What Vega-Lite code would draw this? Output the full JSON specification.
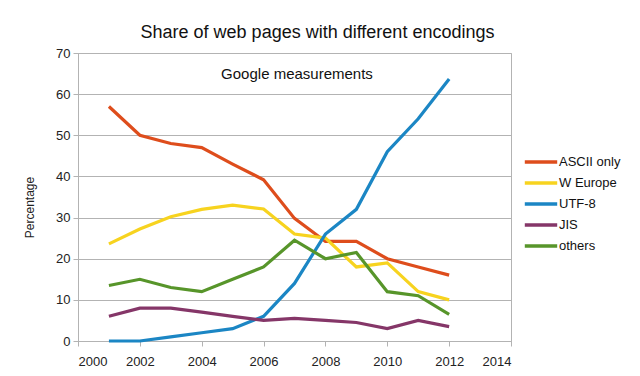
{
  "$schema": "https://vega.github.io/schema/vega-lite/v6.json",
  "width": 433,
  "height": 288,
  "autosize": {"type": "none"},
  "padding": {"left": 78, "top": 53, "right": 129, "bottom": 35},
  "background": "white",
  "config": {
    "font": "Liberation Sans",
    "view": {"stroke": "#b3b3b3", "strokeWidth": 1},
    "axis": {"labelFont": "Liberation Sans", "titleFont": "Liberation Sans", "labelColor": "#222", "titleColor": "#222", "domainColor": "#b3b3b3", "tickColor": "#b3b3b3", "gridColor": "#b3b3b3", "labelFontSize": 13}
  },
  "title": {"text": "Share of web pages with different encodings", "fontSize": 18, "font": "Liberation Sans", "fontWeight": "normal", "color": "#111", "anchor": "middle", "dx": 23, "offset": 5},
  "datasets": {
    "series": [
      {"year": 2001, "value": 57, "enc": "ASCII only"},
      {"year": 2002, "value": 50, "enc": "ASCII only"},
      {"year": 2003, "value": 48, "enc": "ASCII only"},
      {"year": 2004, "value": 47, "enc": "ASCII only"},
      {"year": 2005, "value": 43, "enc": "ASCII only"},
      {"year": 2006, "value": 39.2, "enc": "ASCII only"},
      {"year": 2007, "value": 29.8, "enc": "ASCII only"},
      {"year": 2008, "value": 24.2, "enc": "ASCII only"},
      {"year": 2009, "value": 24.2, "enc": "ASCII only"},
      {"year": 2010, "value": 20, "enc": "ASCII only"},
      {"year": 2011, "value": 18, "enc": "ASCII only"},
      {"year": 2012, "value": 16, "enc": "ASCII only"},
      {"year": 2001, "value": 23.6, "enc": "W Europe"},
      {"year": 2002, "value": 27.2, "enc": "W Europe"},
      {"year": 2003, "value": 30.2, "enc": "W Europe"},
      {"year": 2004, "value": 32, "enc": "W Europe"},
      {"year": 2005, "value": 33, "enc": "W Europe"},
      {"year": 2006, "value": 32.1, "enc": "W Europe"},
      {"year": 2007, "value": 26, "enc": "W Europe"},
      {"year": 2008, "value": 25, "enc": "W Europe"},
      {"year": 2009, "value": 18, "enc": "W Europe"},
      {"year": 2010, "value": 19, "enc": "W Europe"},
      {"year": 2011, "value": 12, "enc": "W Europe"},
      {"year": 2012, "value": 10, "enc": "W Europe"},
      {"year": 2001, "value": 0, "enc": "UTF-8"},
      {"year": 2002, "value": 0, "enc": "UTF-8"},
      {"year": 2003, "value": 1, "enc": "UTF-8"},
      {"year": 2004, "value": 2, "enc": "UTF-8"},
      {"year": 2005, "value": 3, "enc": "UTF-8"},
      {"year": 2006, "value": 6, "enc": "UTF-8"},
      {"year": 2007, "value": 14, "enc": "UTF-8"},
      {"year": 2008, "value": 26, "enc": "UTF-8"},
      {"year": 2009, "value": 32, "enc": "UTF-8"},
      {"year": 2010, "value": 46, "enc": "UTF-8"},
      {"year": 2011, "value": 54, "enc": "UTF-8"},
      {"year": 2012, "value": 63.7, "enc": "UTF-8"},
      {"year": 2001, "value": 6, "enc": "JIS"},
      {"year": 2002, "value": 8, "enc": "JIS"},
      {"year": 2003, "value": 8, "enc": "JIS"},
      {"year": 2004, "value": 7, "enc": "JIS"},
      {"year": 2005, "value": 6, "enc": "JIS"},
      {"year": 2006, "value": 5, "enc": "JIS"},
      {"year": 2007, "value": 5.5, "enc": "JIS"},
      {"year": 2008, "value": 5, "enc": "JIS"},
      {"year": 2009, "value": 4.5, "enc": "JIS"},
      {"year": 2010, "value": 3, "enc": "JIS"},
      {"year": 2011, "value": 5, "enc": "JIS"},
      {"year": 2012, "value": 3.5, "enc": "JIS"},
      {"year": 2001, "value": 13.5, "enc": "others"},
      {"year": 2002, "value": 15, "enc": "others"},
      {"year": 2003, "value": 13, "enc": "others"},
      {"year": 2004, "value": 12, "enc": "others"},
      {"year": 2005, "value": 15, "enc": "others"},
      {"year": 2006, "value": 18, "enc": "others"},
      {"year": 2007, "value": 24.5, "enc": "others"},
      {"year": 2008, "value": 20, "enc": "others"},
      {"year": 2009, "value": 21.5, "enc": "others"},
      {"year": 2010, "value": 12, "enc": "others"},
      {"year": 2011, "value": 11, "enc": "others"},
      {"year": 2012, "value": 6.5, "enc": "others"}
    ],
    "note": [{"year": 2007.08, "value": 64.9, "label": "Google measurements"}]
  },
  "layer": [
    {
      "data": {"name": "series"},
      "mark": {"type": "line", "strokeWidth": 3.2, "strokeJoin": "miter"},
      "encoding": {
        "x": {"field": "year", "type": "quantitative", "scale": {"domain": [2000, 2014], "nice": false, "zero": false},
              "axis": {"values": [2000, 2002, 2004, 2006, 2008, 2010, 2012, 2014], "format": "d", "grid": false, "title": null, "tickSize": 5, "labelPadding": 9}},
        "y": {"field": "value", "type": "quantitative", "scale": {"domain": [0, 70], "nice": false},
              "axis": {"values": [0, 10, 20, 30, 40, 50, 60, 70], "grid": true, "title": "Percentage", "titleFontSize": 12, "titleFontWeight": "normal", "titlePadding": 19, "titleY": 154, "tickSize": 5, "labelPadding": 3}},
        "color": {"field": "enc", "type": "nominal",
                  "scale": {"domain": ["ASCII only", "W Europe", "UTF-8", "JIS", "others"], "range": ["#de4d1c", "#f7d31f", "#1b86c4", "#853668", "#57952a"]},
                  "legend": {"title": null, "orient": "none", "legendX": 445, "legendY": 101, "symbolType": "stroke", "symbolSize": 1050, "symbolStrokeWidth": 3.5, "clipHeight": 16, "labelFontSize": 13, "labelFont": "Liberation Sans", "labelColor": "#111", "rowPadding": 5, "labelOffset": 0}}
      }
    },
    {
      "data": {"name": "note"},
      "mark": {"type": "text", "fontSize": 15, "font": "Liberation Sans", "color": "#111", "align": "center", "baseline": "middle"},
      "encoding": {
        "x": {"field": "year", "type": "quantitative"},
        "y": {"field": "value", "type": "quantitative"},
        "text": {"field": "label"}
      }
    }
  ]
}
